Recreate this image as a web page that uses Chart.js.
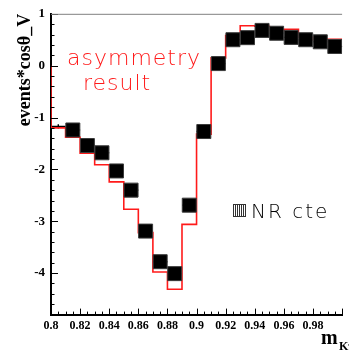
<!DOCTYPE html>
<html>
<head>
<meta charset="utf-8">
<script src="https://cdn.jsdelivr.net/npm/chart.js@4"></script>
<style>
  html, body { margin: 0; padding: 0; background: #fff; overflow: hidden; }
  canvas { display: block; }
</style>
</head>
<body>
<canvas id="grafico" width="353" height="351"></canvas>
<script>
/* bins de massa m_Kpi (centros e bordas) */
var centros = [0.805, 0.815, 0.825, 0.835, 0.845, 0.855, 0.865, 0.875, 0.885, 0.895,
               0.905, 0.915, 0.925, 0.935, 0.945, 0.955, 0.965, 0.975, 0.985, 0.995];
var bordas = [0.80, 0.81, 0.82, 0.83, 0.84, 0.85, 0.86, 0.87, 0.88, 0.89, 0.90,
              0.91, 0.92, 0.93, 0.94, 0.95, 0.96, 0.97, 0.98, 0.99, 1.00];

/* pontos pretos (eventos * cos theta_V) */
var eventos = [-1.17, -1.24, -1.54, -1.68, -2.03, -2.40, -3.19, -3.78, -4.01, -2.69,
               -1.27, 0.04, 0.50, 0.54, 0.68, 0.625, 0.545, 0.50, 0.46, 0.37];
var erros = [0.04, 0.04, 0.04, 0.04, 0.04, 0.04, 0.04, 0.04, 0.04, 0.04,
             0.04, 0.04, 0.04, 0.04, 0.04, 0.04, 0.04, 0.04, 0.04, 0.04];

/* histograma vermelho (resultado da assimetria) */
var assimetria = [-1.20, -1.38, -1.69, -1.91, -2.24, -2.77, -3.22, -3.98, -4.31, -3.06,
                  -1.32, 0.15, 0.58, 0.77, 0.76, 0.68, 0.70, 0.55, 0.50, 0.51];

var ticksX = [0.8, 0.82, 0.84, 0.86, 0.88, 0.9, 0.92, 0.94, 0.96, 0.98];
var ticksY = [1, 0, -1, -2, -3, -4];

var pontos = centros.map(function (c, i) { return { x: c, y: eventos[i] }; });
var degraus = [{ x: bordas[0], y: 0 }];
assimetria.forEach(function (v, i) { degraus.push({ x: bordas[i + 1], y: v }); });

var serif = '"Liberation Serif", "DejaVu Serif", serif';
var fino = '"DejaVu Sans", sans-serif';

// barras de erro (largura do bin) desenhadas por baixo dos quadrados
var barrasErro = {
  id: 'barrasErro',
  beforeDatasetsDraw: function (chart) {
    var ctx = chart.ctx, x = chart.scales.x, y = chart.scales.y;
    ctx.save();
    ctx.strokeStyle = '#000';
    ctx.lineWidth = 1.4;
    ctx.beginPath();
    centros.forEach(function (c, i) {
      var py = y.getPixelForValue(eventos[i]);
      var px = x.getPixelForValue(c);
      ctx.moveTo(x.getPixelForValue(bordas[i]), py);
      ctx.lineTo(x.getPixelForValue(bordas[i + 1]), py);
      ctx.moveTo(px, y.getPixelForValue(eventos[i] + erros[i]));
      ctx.lineTo(px, y.getPixelForValue(eventos[i] - erros[i]));
    });
    ctx.stroke();
    ctx.restore();
  }
};

// marcas internas no estilo ROOT, moldura e textos
var moldura = {
  id: 'moldura',
  afterDatasetsDraw: function (chart) {
    var ctx = chart.ctx, a = chart.chartArea, x = chart.scales.x, y = chart.scales.y;
    ctx.save();
    ctx.strokeStyle = '#000';
    ctx.lineWidth = 1;
    ctx.beginPath();
    for (var i = 0; i <= 40; i++) {
      var px = Math.round(x.getPixelForValue(0.8 + i * 0.005)) + 0.5;
      var lx = (i % 4 === 0) ? 6 : 3;
      ctx.moveTo(px, a.bottom);
      ctx.lineTo(px, a.bottom - lx);
    }
    for (var j = 0; j <= 29; j++) {
      var py = Math.round(y.getPixelForValue(1 - j * 0.2)) + 0.5;
      var ly = (j % 5 === 0) ? 7 : 3.5;
      ctx.moveTo(a.left, py);
      ctx.lineTo(a.left + ly, py);
    }
    ctx.stroke();

    // linha de cima
    ctx.strokeStyle = '#808080';
    ctx.beginPath();
    ctx.moveTo(a.left, a.top + 0.5);
    ctx.lineTo(a.right, a.top + 0.5);
    ctx.stroke();

    // texto vermelho
    ctx.fillStyle = '#ff1a1a';
    ctx.font = '200 22px ' + fino;
    ctx.letterSpacing = '1px';
    ctx.textAlign = 'left';
    ctx.textBaseline = 'alphabetic';
    ctx.fillText('asymmetry', 67, 65);
    ctx.fillText('result', 83, 90);

    // legenda NR cte com caixa hachurada
    ctx.fillStyle = '#000';
    ctx.font = '200 20px ' + fino;
    ctx.letterSpacing = '2px';
    ctx.fillText('NR cte', 251, 218);
    ctx.letterSpacing = '0px';
    ctx.strokeStyle = '#333';
    ctx.lineWidth = 1;
    ctx.strokeRect(233.5, 204.5, 12, 12);
    ctx.beginPath();
    for (var k = 235.5; k < 245; k += 2) {
      ctx.moveTo(k, 205);
      ctx.lineTo(k, 216);
    }
    ctx.stroke();

    // titulo do eixo x: m_Kpi
    ctx.font = 'bold 20px ' + serif;
    ctx.fillText('m', 321, 344);
    ctx.font = 'bold 12px ' + serif;
    ctx.fillText('K\u03c0', 339, 350);
    ctx.restore();
  }
};

var ctx = document.getElementById('grafico').getContext('2d');
var grafico = new Chart(ctx, {
  type: 'scatter',
  data: {
    datasets: [{
      label: 'eventos',
      data: pontos,
      pointStyle: 'rect',
      pointRadius: function (c) { return c.dataIndex === 0 ? 0 : 9.9; },
      backgroundColor: '#000',
      borderColor: '#3a3a3a',
      borderWidth: 1,
      order: 0
    }, {
      label: 'asymmetry result',
      data: degraus,
      showLine: true,
      stepped: 'after',
      borderColor: '#ff1a1a',
      borderWidth: 1.6,
      pointRadius: 0,
      fill: false,
      order: 1
    }]
  },
  options: {
    responsive: false,
    animation: false,
    devicePixelRatio: 1,
    layout: { padding: { top: 13, right: 1, left: 0, bottom: 0 } },
    plugins: { legend: { display: false }, tooltip: { enabled: false } },
    scales: {
      x: {
        type: 'linear',
        min: 0.8,
        max: 1.0,
        afterFit: function (s) { s.height = 36.4; },
        afterBuildTicks: function (s) { s.ticks = ticksX.map(function (v) { return { value: v }; }); },
        grid: { drawOnChartArea: false, drawTicks: false },
        border: { color: '#000', width: 2 },
        ticks: {
          padding: 4,
          color: '#000',
          font: { family: serif, size: 12, weight: 'bold' },
          maxRotation: 0,
          autoSkip: false,
          callback: function (v) { return String(v); }
        }
      },
      y: {
        type: 'linear',
        min: -4.8,
        max: 1,
        afterFit: function (s) { s.width = 51; },
        afterBuildTicks: function (s) { s.ticks = ticksY.map(function (v) { return { value: v }; }); },
        grid: { drawOnChartArea: false, drawTicks: false },
        border: { color: '#000', width: 2 },
        title: {
          display: true,
          text: 'events*cos\u03b8_V',
          align: 'end',
          color: '#000',
          font: { family: serif, size: 18, weight: 'bold' },
          padding: { top: 15, bottom: 0 }
        },
        ticks: {
          padding: 6,
          color: '#000',
          font: { family: serif, size: 13, weight: 'bold' },
          callback: function (v) { return String(v); }
        }
      }
    }
  },
  plugins: [barrasErro, moldura]
});
</script>
</body>
</html>
